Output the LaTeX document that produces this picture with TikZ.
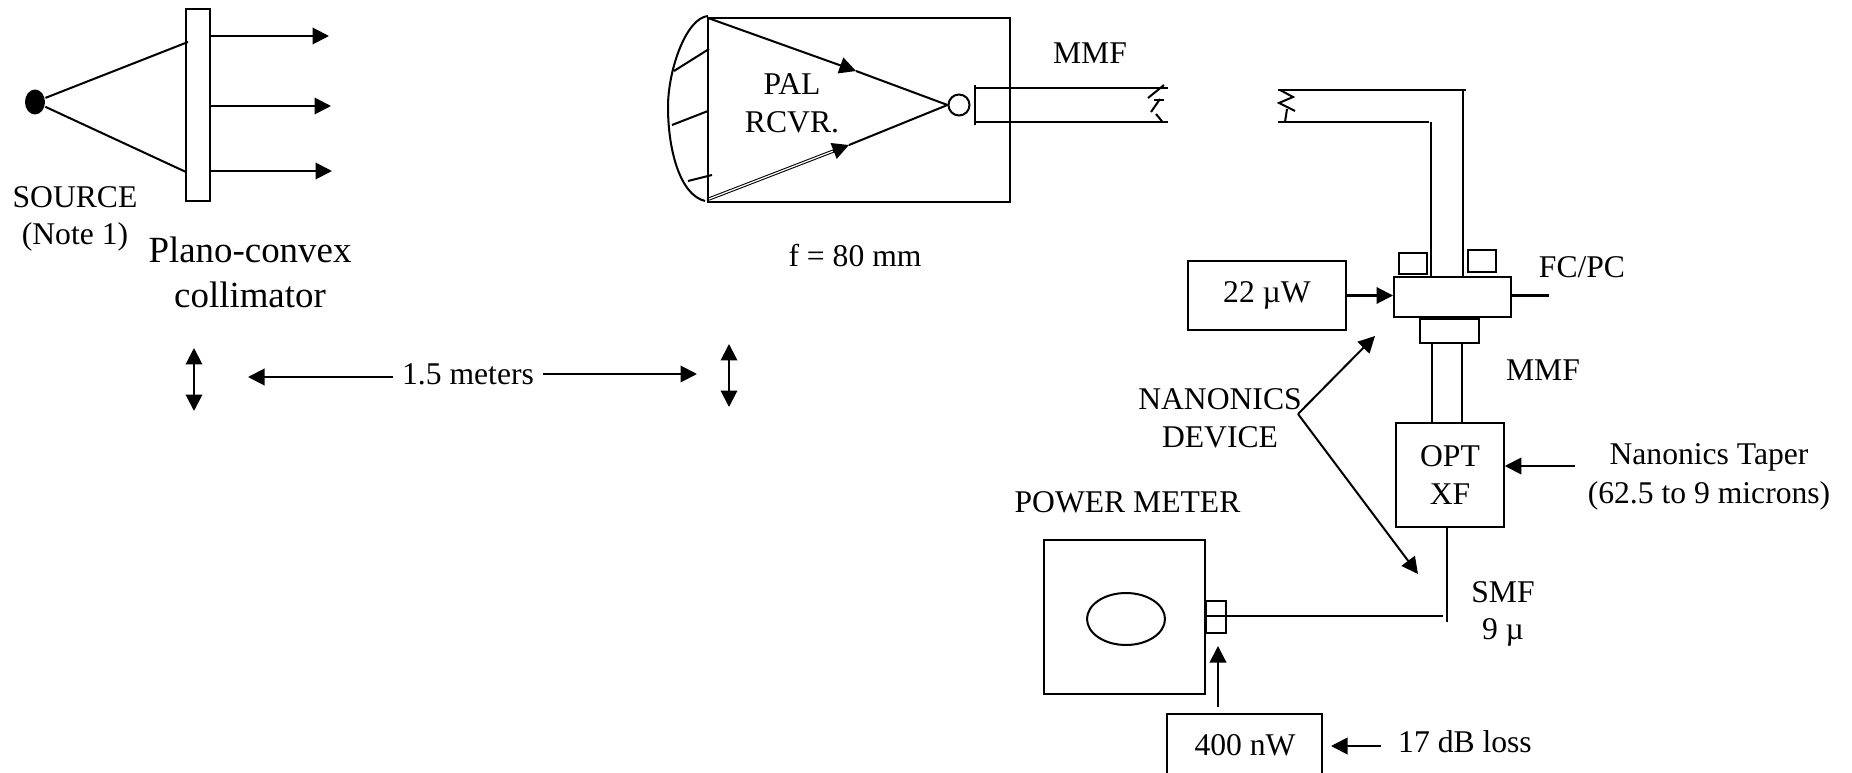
\documentclass[tikz,border=0pt]{standalone}
\usepackage{fontspec}
\setmainfont{Liberation Serif}
\usetikzlibrary{arrows.meta,shapes.geometric,calc}

\begin{document}
\begin{tikzpicture}[x=.02cm, y=-.02cm, line width=1.15pt, font=\fontsize{18}{21.5}\selectfont,
    box/.style={draw, inner sep=0pt, align=center},
    beam/.style={-{Triangle[length=.33cm,width=.33cm]}},
    both/.style={{Triangle[length=.33cm,width=.33cm]}-{Triangle[length=.33cm,width=.33cm]}},
    label/.style={inner sep=0pt, align=center},
    big/.style={label, font=\fontsize{21}{25.5}\selectfont}]
  \useasboundingbox (0,0) rectangle (1852,773);

  % source and collimator
  \node[ellipse, fill=black, inner sep=0pt, minimum width=.4cm, minimum height=.5cm] (source) at (35,102) {};
  \node[box, minimum width=.48cm, minimum height=3.84cm] (lens) at (198,105) {};
  \coordinate (lensTop) at (188,42);
  \coordinate (lensBot) at (186,172);
  \draw (source) -- (lensTop);
  \draw (source) -- (lensBot);
  \foreach \y/\xa/\xb in {36/209/329,106/211/331,171/211/332} {
    \draw[beam] (\xa,\y) -- (\xb,\y);
  }
  \node[label] (sourceText) at (75,219) {SOURCE\\(Note 1)};
  \node[big] (lensText) at (250,272) {Plano-convex\\collimator};

  % distance
  \draw[both] (194,348) -- (194,411);
  \draw[both] (729,344) -- (729,407);
  \node[label] (distText) at (468,374) {1.5 meters};
  \coordinate (distLeft) at (248,377);
  \coordinate (distRight) at (697,374);
  \draw[beam] (distText.west |- distLeft) ++(-8,0) -- (distLeft);
  \draw[beam] (distText.east |- distRight) ++(8,0) -- (distRight);

  % receiver
  \node[box, minimum width=6.04cm, minimum height=3.68cm] (rcvr) at (859,110) {};
  \node[draw, circle, inner sep=0pt, minimum size=.42cm] (focus) at (959,105) {};
  \coordinate (dishTop) at (708,18);
  \coordinate (dishBot) at (709,199);
  \coordinate (rayTop) at (856,71);
  \coordinate (rayBot) at (849,145);
  \draw (708,16) .. controls (686,18) and (668,70) .. (668,107) .. controls (668,150) and (680,195) .. (705,201);
  \draw (709,49) -- (674,71);
  \draw (708,111) -- (672,125);
  \draw (712,175) -- (688,181);
  \draw[beam] (dishTop) -- (rayTop);
  \draw (rayTop) -- (focus.west);
  \draw[line width=.6pt, double, double distance=.7pt, shorten >=6pt] (dishBot) -- (rayBot);
  \draw[beam] ($(rayBot)+(-16,6.2)$) -- (rayBot);
  \draw (rayBot) -- (focus.west);
  \node[label] (rcvrText) at (792,103) {PAL\\RCVR.};
  \node[label] (focalText) at (855,256) {f = 80 mm};

  % multimode fibre, cut
  \draw (975,85) -- (975,125);
  \draw (975,88) -- (1168,88);
  \draw (975,122) -- (1168,122);
  \draw (1164,85) -- (1148,98);
  \draw (1164,100) -- (1154,100);
  \draw (1160,99) -- (1151,112);
  \draw (1156,114) -- (1162.5,122);
  \node[label] (mmfTopText) at (1090,53) {MMF};
  \draw (1278,90) -- (1466,90);
  \draw (1278,122) -- (1429,122);
  \draw (1280,90) -- (1293,97) -- (1279,103) -- (1295,111);
  \draw (1287,109) -- (1285,122);

  % connector stack
  \node[box, minimum width=2.34cm, minimum height=.8cm] (splice) at (1452.5,297) {};
  \node[box, minimum width=.56cm, minimum height=.42cm] (keyLeft) at (1413,263.5) {};
  \node[box, minimum width=.56cm, minimum height=.44cm] (keyRight) at (1482,261) {};
  \node[box, minimum width=1.18cm, minimum height=.48cm] (ferrule) at (1449.5,331) {};
  \node[box, minimum width=3.16cm, minimum height=1.38cm] (gain) at (1267,295.5) {22 µW};
  \node[box, minimum width=2.15cm, minimum height=2.08cm] (taper) at (1450,475) {OPT\\XF};
  \draw (1431,122) -- (1431,277);
  \draw (1463,90) -- (1463,277);
  \draw (1432,343) -- (1432,423);
  \draw (1462,343) -- (1462,423);
  \draw[beam] (gain.east) -- (gain.east -| splice.west);
  \coordinate (fcEnd) at (1549,295.5);
  \draw (fcEnd -| splice.east) -- (fcEnd);
  \node[label] (fcText) at (1582,267) {FC/PC};
  \node[label] (mmfText) at (1543,370) {MMF};

  % callouts
  \node[label] (deviceText) at (1220,418) {NANONICS\\DEVICE};
  \coordinate (callout) at (1298,414);
  \coordinate (calloutUp) at (1375,336);
  \coordinate (calloutDown) at (1418,574);
  \draw[beam] (callout) -- (calloutUp);
  \draw[beam] (callout) -- (calloutDown);
  \node[label, font=\fontsize{18}{22.5}\selectfont] (taperText) at (1709,477) {Nanonics Taper\\(62.5 to 9 microns)};
  \coordinate (taperFrom) at (1575,466);
  \draw[beam] (taperFrom) -- (taper.east |- taperFrom);

  % power meter
  \node[box, minimum width=3.22cm, minimum height=3.08cm] (meter) at (1124.5,617) {};
  \node[draw, ellipse, inner sep=0pt, minimum width=1.56cm, minimum height=1.04cm] (dial) at (1126,619) {};
  \node[box, minimum width=.4cm, minimum height=.64cm] (adapter) at (1216,617) {};
  \node[label] (meterText) at (1127.5,502) {POWER METER};
  \coordinate (smfCorner) at (1443,616);
  \coordinate (smfEnd) at (1447,622);
  \draw (taper.south -| smfEnd) -- (smfEnd);
  \draw (smfCorner -| meter.east) -- (smfCorner);
  \node[label] (smfText) at (1503,614) {SMF\\9 µ};

  % loss readout
  \draw (1167,773) |- (1322,714) -- (1322,773);
  \node[label] (lossBox) at (1245,745) {400 nW};
  \coordinate (lossUp) at (1218,646);
  \draw[beam] (1218,707) -- (lossUp);
  \node[label] (lossText) at (1465,742) {17 dB loss};
  \coordinate (lossFrom) at (1381,746);
  \coordinate (lossTip) at (1331,746);
  \draw[beam] (lossFrom) -- (lossTip);
\end{tikzpicture}
\end{document}
